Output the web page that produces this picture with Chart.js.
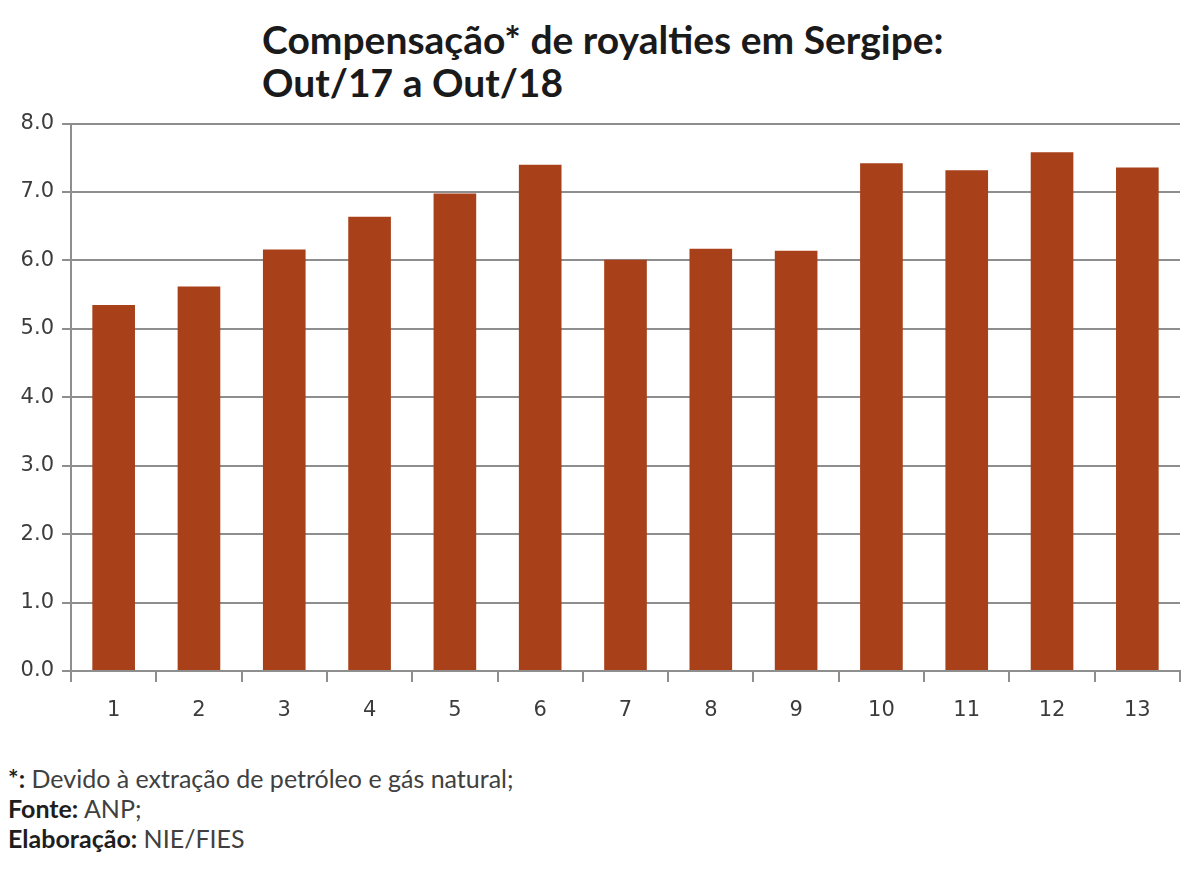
<!DOCTYPE html>
<html>
<head>
<meta charset="utf-8">
<script src="https://cdn.jsdelivr.net/npm/chart.js@4/dist/chart.umd.min.js"></script>
<style>
  html, body { margin: 0; padding: 0; background: #fff; }
  body { width: 1200px; height: 873px; position: relative; overflow: hidden; }
  .title {
    position: absolute; left: 262px; top: 18px;
    font-family: Lato, "Open Sans", sans-serif; font-weight: bold;
    font-size: 39px; line-height: 43px; color: #1a1a1a;
  }
  .wrap { position: absolute; left: 0; top: 103px; width: 1200px; height: 618px; }
  .notes {
    position: absolute; left: 8px; top: 763px;
    font-family: Lato, "Open Sans", sans-serif; font-size: 25px;
    line-height: 30px; color: #404040;
  }
  .notes b { color: #1e1e1e; }
</style>
</head>
<body>
<div class="title">Compensação* de royalties em Sergipe:<br>Out/17 a Out/18</div>
<div class="wrap"><canvas id="chart"></canvas></div>
<div class="notes">
  <div><b>*:</b> Devido à extração de petróleo e gás natural;</div>
  <div><b>Fonte:</b> ANP;</div>
  <div><b>Elaboração:</b> NIE/FIES</div>
</div>
<script>
// meses de Out/17 a Out/18
const categories = ['1', '2', '3', '4', '5', '6', '7', '8', '9', '10', '11', '12', '13'];
const royalties = [5.35, 5.62, 6.16, 6.64, 6.98, 7.40, 6.01, 6.17, 6.14, 7.42, 7.32, 7.58, 7.36];
const yMin = 0;
const yMax = 8;
const yStep = 1;

const ctx = document.getElementById('chart');
new Chart(ctx, {
    type: 'bar',
    data: {
        labels: categories,
        datasets: [{
            label: 'Compensação',
            data: royalties,
            backgroundColor: '#a8411a',
            borderWidth: 0,
            barPercentage: 0.5,
            categoryPercentage: 1.0
        }]
    },
    options: {
        responsive: true,
        maintainAspectRatio: false,
        animation: false,
        layout: { padding: { top: 6, right: 20, left: 0, bottom: 0 } },
        plugins: {
            legend: { display: false },
            tooltip: { enabled: false }
        },
        scales: {
            y: {
                min: yMin,
                max: yMax,
                afterFit: (scale) => { scale.width = 71; },
                ticks: {
                    stepSize: yStep,
                    padding: 8,
                    color: '#3c3c3c',
                    font: { family: '"DejaVu Sans"', size: 21 },
                    callback: (v) => v.toFixed(1)
                },
                grid: { color: '#8e8e8e', lineWidth: 2, tickLength: 9 },
                border: { color: '#8e8e8e', width: 2 }
            },
            x: {
                afterFit: (scale) => { scale.height = 50; },
                ticks: {
                    padding: 16,
                    color: '#3c3c3c',
                    font: { family: '"DejaVu Sans"', size: 21 }
                },
                grid: {
                    offset: true,
                    drawOnChartArea: false,
                    drawTicks: true,
                    tickLength: 11,
                    color: '#8e8e8e',
                    lineWidth: 2
                },
                border: { color: '#8e8e8e', width: 2 }
            }
        }
    }
});
</script>
</body>
</html>
